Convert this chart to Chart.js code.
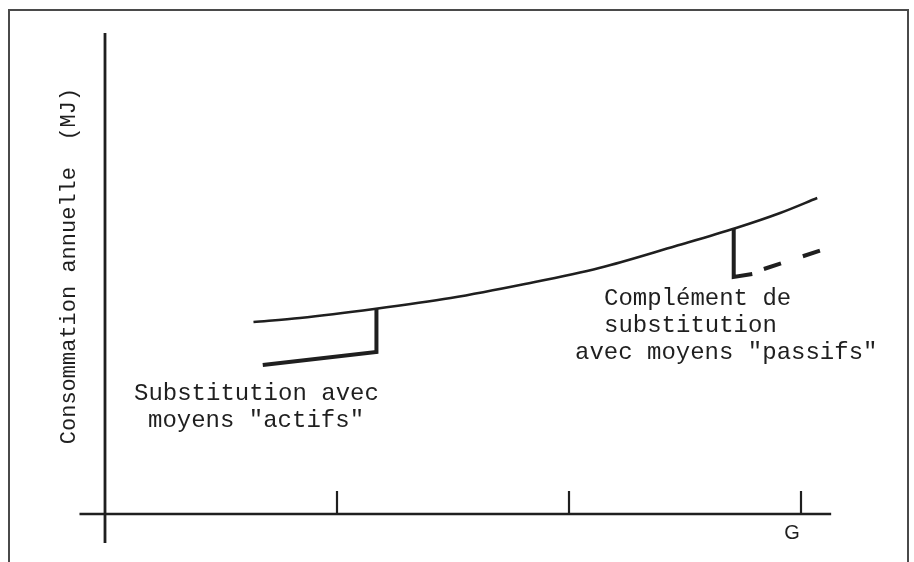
<!DOCTYPE html>
<html><head><meta charset="utf-8">
<script src="https://cdn.jsdelivr.net/npm/chart.js@4.4.1/dist/chart.umd.min.js"></script>
<style>html,body{margin:0;padding:0;background:#fff}#c{display:block}</style>
</head><body>
<canvas id="c" width="914" height="562"></canvas>
<script>
// ---- data (units: G along x, consumption along y, arbitrary) ----
const curveX = [0.64, 0.84, 1.16, 1.49, 1.81, 2.13, 2.46, 2.72, 2.91, 3.07];
const curveY = [1.92, 1.96, 2.05, 2.16, 2.30, 2.46, 2.68, 2.86, 3.01, 3.16];
const activeX = [0.68, 1.17, 1.17];
const activeY = [1.49, 1.62, 2.05];
const passiveX = [2.71, 2.71, 2.79];
const passiveY = [2.86, 2.37, 2.40];
const dashX = [2.84, 3.09];
const dashY = [2.45, 2.64];
const xAxisRange = [-0.11, 3.13];
const yAxisRange = [-0.29, 4.81];
const tickValues = [1, 2, 3];
const tickHeight = 0.23;
const tickLabels = ['', '', 'G'];
const yTitle = 'Consommation annuelle  (MJ)';
const activeText = ['Substitution avec', 'moyens "actifs"'];
const passiveText = ['Complément de', 'substitution', 'avec moyens "passifs"'];

const pts = (xs, ys) => xs.map((x, i) => ({x, y: ys[i]}));
const INK = '#1f1f1f';
const FONT = '24px "Liberation Mono", "DejaVu Sans Mono", monospace';
const TITLE_FONT = '22px "Liberation Mono", "DejaVu Sans Mono", monospace';

const base = {showLine: true, pointRadius: 0, borderColor: INK, fill: false, tension: 0, clip: false};
const datasets = [
  {...base, data: [{x: xAxisRange[0], y: 0}, {x: xAxisRange[1], y: 0}], borderWidth: 2.6},
  {...base, data: [{x: 0, y: yAxisRange[0]}, {x: 0, y: yAxisRange[1]}], borderWidth: 2.8},
  ...tickValues.map(t => ({...base, data: [{x: t, y: 0}, {x: t, y: tickHeight}], borderWidth: 2.2})),
  {...base, data: pts(curveX, curveY), borderWidth: 2.5, cubicInterpolationMode: 'monotone'},
  {...base, data: pts(activeX, activeY), borderWidth: 4, borderJoinStyle: 'miter'},
  {...base, data: pts(passiveX, passiveY), borderWidth: 4, borderJoinStyle: 'miter'},
  {...base, data: pts(dashX, dashY), borderWidth: 4, borderDash: [18, 23]}
];

const W = 914, H = 562;
const axisOrigin = {px: 105, py: 514}, unitX = 232, unitY = 100;

const decor = {
  id: 'decor',
  beforeDraw(chart) {
    const c = chart.ctx;
    c.save();
    c.fillStyle = '#fff';
    c.fillRect(0, 0, W, H);
    c.strokeStyle = '#4a4a4a';
    c.lineWidth = 2;
    c.strokeRect(9, 10, 899, 620);
    c.restore();
  },
  afterDraw(chart) {
    const c = chart.ctx, sx = chart.scales.x, sy = chart.scales.y;
    c.save();
    c.fillStyle = INK;
    c.font = FONT;
    c.textBaseline = 'alphabetic';
    c.textAlign = 'left';
    // annotations
    c.fillText(activeText[0], 134, 400);
    c.fillText(activeText[1], 148, 427);
    c.fillText(passiveText[0], 604, 305);
    c.fillText(passiveText[1], 604, 332);
    c.fillText(passiveText[2], 575, 359);
    // tick labels
    c.font = '20px "Liberation Sans", Arial, sans-serif';
    c.textAlign = 'center';
    tickValues.forEach((t, i) => {
      if (tickLabels[i]) c.fillText(tickLabels[i], sx.getPixelForValue(t) - 9, sy.getPixelForValue(0) + 25);
    });
    // y axis title
    c.font = TITLE_FONT;
    c.translate(sx.getPixelForValue(0) - 30, sy.getPixelForValue(2.48));
    c.rotate(-Math.PI / 2);
    c.textAlign = 'center';
    c.fillText(yTitle, 0, 0);
    c.restore();
  }
};

new Chart(document.getElementById('c'), {
  type: 'scatter',
  data: {datasets},
  options: {
    responsive: false,
    animation: false,
    events: [],
    layout: {padding: 0},
    plugins: {legend: {display: false}, tooltip: {enabled: false}},
    scales: {
      x: {type: 'linear', display: false, min: -axisOrigin.px / unitX, max: (W - axisOrigin.px) / unitX},
      y: {type: 'linear', display: false, min: -(H - axisOrigin.py) / unitY, max: axisOrigin.py / unitY}
    }
  },
  plugins: [decor]
});
</script>
</body></html>
